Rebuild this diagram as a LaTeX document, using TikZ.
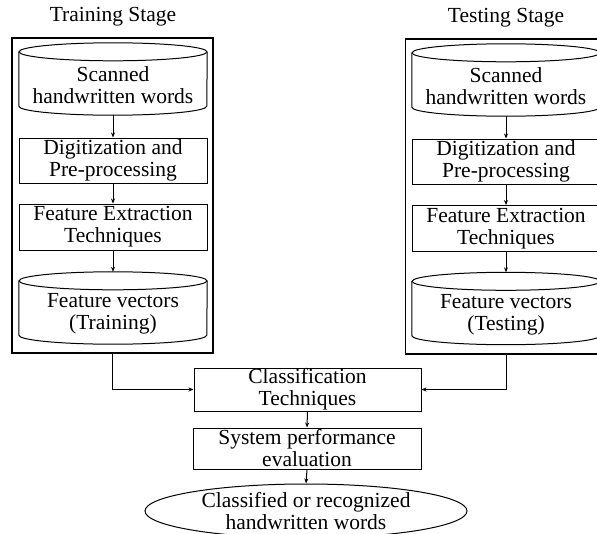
\documentclass[tikz,border=0pt]{standalone}
\usepackage{fontspec}
\setmainfont{Liberation Serif}
\usetikzlibrary{shapes.geometric,arrows.meta,calc}

% outline of a database cylinder around a text node
\newcommand\cylout[1]{%
  \draw[thinline] ($(#1.north)+(0,3)$) ellipse [x radius=94, y radius=9];
  \draw[thinline] ($(#1.north west)+(0,3)$) -- ($(#1.south west)+(0,9)$)
    arc [start angle=180, end angle=360, x radius=94, y radius=9]
    -- ($(#1.north east)+(0,3)$);
  \coordinate (#1top) at ($(#1.north)+(0,12)$);
}

\begin{document}
\begin{tikzpicture}[x=1pt,y=1pt,
  every node/.style={font=\fontsize{21.5}{22}\selectfont, align=center},
  thinline/.style={line width=1pt},
  stagebox/.style={draw, line width=1.4pt, minimum width=201pt, minimum height=315pt, inner sep=0},
  procbox/.style={draw, thinline, minimum width=188pt, inner sep=0},
  cyltext/.style={minimum width=188pt, minimum height=60pt, inner sep=0},
  link/.style={thinline, -{Stealth[length=5pt,width=4pt]}},
]
\clip (0,0) rectangle (597,-533);

% ---- training column ----
\node (ttrain) at (113,-17) {Training Stage};
\node[cyltext] (s1) at (113,-85) {Scanned\\handwritten words};
\node[procbox, minimum height=45pt] (d1) at (113,-160.5) {Digitization and\\Pre-processing};
\node[procbox, minimum height=46pt] (f1) at (113,-227) {Feature Extraction\\Techniques};
\node[cyltext] (v1) at (113,-314) {Feature vectors\\(Training)};
\cylout{s1}
\cylout{v1}
\node[stagebox] (train) at (112.5,-195.5) {};

% ---- testing column ----
\node (ttest) at (506,-18) {Testing Stage};
\node[cyltext] (s2) at (506,-86) {Scanned\\handwritten words};
\node[procbox, minimum height=45pt] (d2) at (506,-161.5) {Digitization and\\Pre-processing};
\node[procbox, minimum height=46pt] (f2) at (506,-228.5) {Feature Extraction\\Techniques};
\node[cyltext] (v2) at (506,-314.5) {Feature vectors\\(Testing)};
\cylout{s2}
\cylout{v2}
\node[stagebox] (test) at (506,-196.5) {};

% ---- common part ----
\node[procbox, minimum width=227pt, minimum height=43pt] (cls) at (307.5,-389.5) {Classification\\Techniques};
\node[procbox, minimum width=228pt, minimum height=41pt] (perf) at (307,-448.5) {System performance\\evaluation};
\node[draw, ellipse, thinline, minimum width=322pt, minimum height=54pt, inner sep=0] (out) at (306,-511) {Classified or recognized\\handwritten words};

% ---- connectors ----
\draw[link] (s1.south) -- (d1.north);
\draw[link] (d1.south) -- (f1.north);
\draw[link] (f1.south) -- (v1top);
\draw[link] (s2.south) -- (d2.north);
\draw[link] (d2.south) -- (f2.north);
\draw[link] (f2.south) -- (v2top);
\draw[link] (train.south) |- (cls.west);
\draw[link] (test.south) |- (cls.east);
\draw[link] (cls.south) -- (perf.north);
\draw[link] (perf.south) -- (out.north);
\end{tikzpicture}
\end{document}
